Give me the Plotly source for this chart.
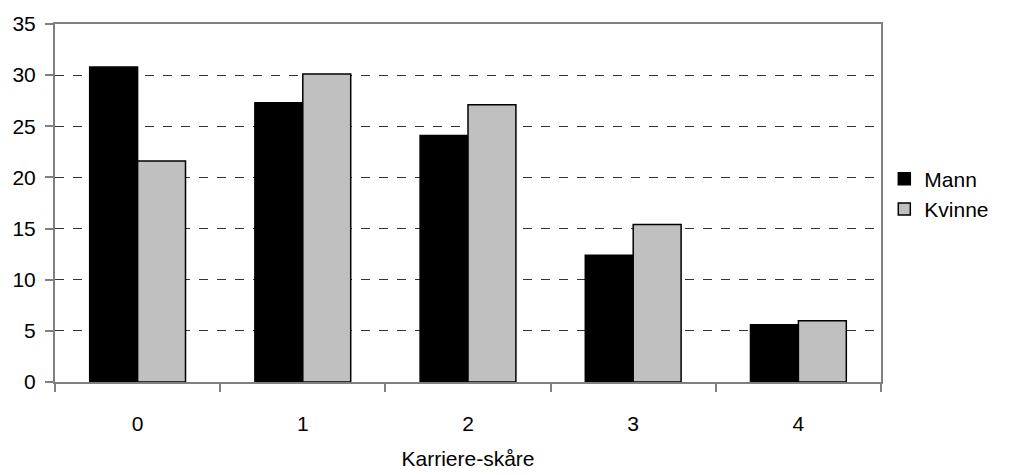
import plotly.graph_objects as go

# Karriere-skåre categories and percentage shares per gender
categories = [0, 1, 2, 3, 4]
mann = [30.8, 27.3, 24.1, 12.4, 5.6]
kvinne = [21.6, 30.1, 27.1, 15.4, 6.0]
y_ticks = [0, 5, 10, 15, 20, 25, 30, 35]

FONT = "Liberation Sans, Arial, sans-serif"
SIZE = 21

fig = go.Figure()
fig.add_trace(go.Bar(
    x=categories, y=mann, name="Mann",
    marker=dict(color="#000000", line=dict(color="#000000", width=1.5)),
))
fig.add_trace(go.Bar(
    x=categories, y=kvinne, name="Kvinne",
    marker=dict(color="#C0C0C0", line=dict(color="#000000", width=1.5)),
))

fig.update_layout(
    width=1010, height=475,
    margin=dict(l=55, r=129, t=24, b=93),
    paper_bgcolor="white", plot_bgcolor="white",
    barmode="group", bargap=0.42, bargroupgap=0,
    font=dict(family=FONT, size=SIZE, color="black"),
    showlegend=True,
    legend=dict(
        x=1.004, y=0.525, xanchor="left", yanchor="middle",
        font=dict(family=FONT, size=SIZE, color="black"),
        itemwidth=30, tracegroupgap=0,
        bgcolor="rgba(0,0,0,0)",
    ),
)

fig.update_xaxes(
    type="linear", range=[-0.5, 4.5], automargin=False,
    tickvals=categories, ticktext=[str(c) for c in categories],
    ticks="", ticklabelstandoff=22,
    minor=dict(tick0=-0.5, dtick=1, ticks="outside", ticklen=8,
               tickcolor="#808080", tickwidth=1.5, showgrid=False),
    showline=True, linecolor="#808080", linewidth=2, mirror=True,
    showgrid=False, zeroline=False,
    title=dict(text="Karriere-skåre", standoff=17,
               font=dict(family=FONT, size=SIZE, color="black")),
)

fig.update_yaxes(
    range=[0, 35], tickvals=y_ticks, automargin=False,
    ticks="outside", ticklen=8, tickcolor="#808080", tickwidth=1.5,
    ticklabelstandoff=5,
    showline=True, linecolor="#808080", linewidth=2, mirror=True,
    showgrid=True, gridcolor="#333333", gridwidth=1, griddash="9px,9px",
    zeroline=False,
)

fig.write_html("out.html")
